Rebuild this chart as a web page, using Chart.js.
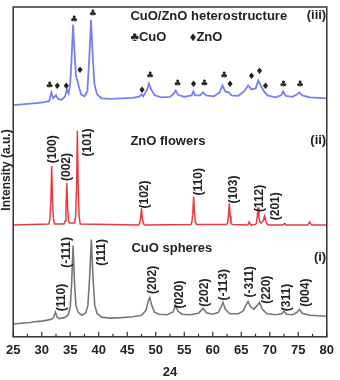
<!DOCTYPE html>
<html>
<head>
<meta charset="utf-8">
<script src="https://cdn.jsdelivr.net/npm/chart.js@4/dist/chart.umd.min.js"></script>
<style>
  html, body { margin: 0; padding: 0; background: #fff; }
  canvas { display: block; }
</style>
</head>
<body>
<canvas id="xrd" width="340" height="380"></canvas>
<script>
// Curvas de difração: pares [2θ, intensidade] (unidades arbitrárias, já com deslocamento)
const cuoSpheres = [
  [25,13],[26,13.5],[27,14],[28,14.5],[29,15.5],[30,16],[31,17],[31.8,18],[32.1,20],[32.4,25],[32.7,20],
  [33.1,18.5],[34,19.5],[34.6,22],[35.0,30],[35.25,55],[35.5,93],[35.75,55],[36.0,32],[36.4,25],[37,22],
  [37.7,24],[38.1,32],[38.4,60],[38.7,99],[39.0,60],[39.3,32],[39.7,24],[40.5,20],[42,19],[44,19.5],
  [46,20.5],[47.5,22],[48.3,27],[48.7,37],[48.95,40],[49.3,32],[49.8,25],[50.5,23],[52,22.5],[53,25],
  [53.5,32],[53.9,26],[54.6,23],[56,22.5],[57.5,24],[58.3,29],[58.9,24.5],[60,23],[61,25],[61.5,31],
  [61.8,35],[62.2,28],[63,23.5],[64.5,23.5],[65.3,26],[65.8,32],[66.2,36],[66.6,31],[67.2,28],[67.8,32],
  [68.2,35],[68.7,28],[69.5,23.5],[71,22.5],[72.1,23.5],[72.5,26],[72.9,23],[74,22.5],[74.8,25],[75.2,28],
  [75.7,24],[77,22],[78.5,21.5],[80,21]
];

const znoFlowers = [
  [25,114],[31.25,115],[31.45,120],[31.6,138],[31.75,174],[31.9,138],[32.05,120],[32.25,115],
  [33.9,115],[34.1,118],[34.25,131],[34.4,157],[34.55,131],[34.7,118],[34.9,116],
  [35.75,116],[35.95,123],[36.1,150],[36.25,210],[36.4,150],[36.55,123],[36.75,115],
  [47.0,114],[47.2,116],[47.35,121],[47.5,131],[47.65,121],[47.8,116],[48.0,114],
  [56.15,114.5],[56.35,117],[56.5,126],[56.65,143],[56.8,126],[56.95,117],[57.15,114.5],
  [62.4,114.5],[62.6,116],[62.75,123],[62.9,136],[63.05,123],[63.2,116],[63.4,114.5],
  [66.1,114],[66.25,115],[66.4,117],[66.55,115],[66.7,114],
  [67.5,114.5],[67.65,116],[67.8,122],[67.95,132],[68.1,122],[68.25,117],[68.5,116],
  [68.85,118],[69.1,123],[69.3,118],[69.5,115],[69.8,114],
  [72.3,114],[72.6,115.5],[72.9,114],
  [76.6,114],[76.85,115.5],[77.0,117],[77.15,115.5],[77.4,114],[80,114]
];

const heteroStructure = [
  [25,236],[27,237],[29,238],[30.5,239],[31.3,240],[31.7,249],[32.0,243],[32.5,246],[32.9,242],
  [33.5,241.5],[34.1,245],[34.4,252],[34.7,248],[35.0,258],[35.25,285],[35.5,318],[35.75,290],
  [36.0,266],[36.25,261],[36.5,255],[36.9,247],[37.5,245],[38.0,250],[38.35,285],[38.65,323],
  [38.95,285],[39.25,257],[39.7,247],[40.5,243],[42,242.5],[44,243],[46,243.5],[47.2,245],[47.5,247],
  [47.8,245],[48.5,252],[48.8,258],[49.2,252],[49.8,246],[51,244],[52.5,244.5],[53.2,248],[53.5,251],
  [53.9,246.5],[55,244.5],[56.3,246],[56.6,250],[56.9,246],[57.8,246],[58.3,249],[58.8,246],[60.2,245],
  [61.2,249],[61.7,256],[62.2,250],[62.8,249],[63.3,246],[64.5,245.5],[65.5,250],[66.2,256],[66.8,252],
  [67.5,253],[68.0,261],[68.5,255],[69.0,250],[69.6,246],[71,244],[72.0,246],[72.35,250],[72.8,245.5],
  [74,244.5],[74.8,247],[75.2,249],[75.7,246],[77,244],[78.5,243.5],[80,243]
];

// Índices de Miller (rótulos verticais): [texto, 2θ, intensidade]
const cuoLabels = [
  ["(110)",33.43,40],["(-111)",34.29,86],["(111)",40.52,86],["(202)",49.52,58],["(020)",54.19,43],
  ["(202)",58.51,45],["(-113)",61.97,53],["(-311)",66.47,56],["(220)",69.41,48],["(311)",73.04,40],
  ["(004)",76.33,45]
];
const znoLabels = [
  ["(100)",31.87,191],["(002)",34.29,173],["(101)",38.1,198],["(102)",48.13,145],["(110)",57.47,158],
  ["(103)",63.7,150],["(112)",68.2,141],["(201)",70.97,133]
];

// Marcadores de fase na curva (iii): ♣ = CuO, ♦ = ZnO
const phaseMarks = [
  ["♣",31.35,256],["♦",32.73,255],["♦",34.29,255],["♣",35.67,323],["♦",36.71,271],["♣",38.96,329],
  ["♦",47.61,251],["♣",48.99,266],["♣",53.84,258],["♦",56.61,257],["♣",58.51,258],["♣",61.97,266],
  ["♦",63.01,257],["♦",66.81,265],["♦",68.2,270],["♦",69.24,255],["♣",72.35,257],["♣",75.3,257]
];

// Títulos de cada curva: [texto, 2θ, intensidade, alinhamento]
const panelTexts = [
  ["CuO/ZnO heterostructure",45.55,326,"left"],["(iii)",79.9,327,"right"],
  ["♣CuO",45.55,305,"left"],["♦ZnO",55.97,305,"left"],
  ["ZnO flowers",45.55,199,"left"],["(ii)",79.9,200,"right"],
  ["CuO spheres",45.73,90,"left"],["(i)",79.9,81,"right"]
];

const xTicks = [25,30,35,40,45,50,55,60,65,70,75,80];

const toXY = arr => arr.map(p => ({ x: p[0], y: p[1] }));

const enfeites = {
  id: "enfeites",
  afterDatasetsDraw(chart) {
    const { ctx, chartArea: a, scales: { x, y } } = chart;
    ctx.save();

    // moldura
    ctx.strokeStyle = "#333";
    ctx.lineWidth = 1.5;
    ctx.strokeRect(a.left, a.top, a.right - a.left, a.bottom - a.top);

    // ticks para dentro (maiores e menores)
    ctx.lineWidth = 1.2;
    ctx.beginPath();
    xTicks.forEach((t, i) => {
      const px = x.getPixelForValue(t);
      ctx.moveTo(px, a.bottom);
      ctx.lineTo(px, a.bottom - 5);
      if (i < xTicks.length - 1) {
        const pm = x.getPixelForValue(t + 2.5);
        ctx.moveTo(pm, a.bottom);
        ctx.lineTo(pm, a.bottom - 3);
      }
    });
    ctx.stroke();

    ctx.fillStyle = "#222";

    // rótulos verticais
    ctx.font = "bold 12px 'Liberation Sans', Arial, sans-serif";
    ctx.textAlign = "center";
    ctx.textBaseline = "middle";
    [...cuoLabels, ...znoLabels].forEach(l => {
      ctx.save();
      ctx.translate(x.getPixelForValue(l[1]), y.getPixelForValue(l[2]));
      ctx.rotate(-Math.PI / 2);
      ctx.fillText(l[0], 0, 0);
      ctx.restore();
    });

    // marcadores
    ctx.font = "9px 'DejaVu Sans', sans-serif";
    phaseMarks.forEach(m => {
      ctx.fillText(m[0], x.getPixelForValue(m[1]), y.getPixelForValue(m[2]));
    });

    // títulos das curvas
    ctx.font = "bold 13px 'Liberation Sans', Arial, sans-serif";
    panelTexts.forEach(t => {
      ctx.textAlign = t[3];
      ctx.fillText(t[0], x.getPixelForValue(t[1]), y.getPixelForValue(t[2]));
    });

    // título do eixo y
    ctx.font = "bold 12px 'Liberation Sans', Arial, sans-serif";
    ctx.textAlign = "center";
    ctx.save();
    ctx.translate(6.5, 170);
    ctx.rotate(-Math.PI / 2);
    ctx.fillText("Intensity (a.u.)", 0, 0);
    ctx.restore();

    ctx.restore();
  }
};

document.addEventListener("DOMContentLoaded", function () {
  const ctx = document.getElementById("xrd");

  new Chart(ctx, {
    type: "line",
    data: {
      datasets: [
        {
          label: "CuO spheres",
          data: toXY(cuoSpheres),
          borderColor: "rgba(85,85,85,0.8)",
          borderWidth: 1.6
        },
        {
          label: "ZnO flowers",
          data: toXY(znoFlowers),
          borderColor: "#e63b40",
          borderWidth: 1.5
        },
        {
          label: "CuO/ZnO heterostructure",
          data: toXY(heteroStructure),
          borderColor: "rgba(85,95,235,0.8)",
          borderWidth: 1.8
        }
      ]
    },
    options: {
      responsive: false,
      devicePixelRatio: 1,
      animation: false,
      layout: { padding: { left: 13, top: 7, right: 9, bottom: 0 } },
      elements: { point: { radius: 0 }, line: { tension: 0 } },
      plugins: { legend: { display: false }, tooltip: { enabled: false } },
      scales: {
        x: {
          type: "linear",
          min: 25,
          max: 80,
          grid: { display: false, drawTicks: false },
          border: { display: false },
          ticks: {
            stepSize: 5,
            padding: 6,
            color: "#222",
            font: { family: "'Liberation Sans', Arial, sans-serif", size: 13, weight: "bold" }
          },
          title: {
            display: true,
            text: "24",
            color: "#222",
            padding: { top: 0, bottom: 0 },
            font: { family: "'Liberation Sans', Arial, sans-serif", size: 13, weight: "bold" }
          }
        },
        y: { display: false, min: 0, max: 336 }
      }
    },
    plugins: [enfeites]
  });
});
</script>
</body>
</html>
